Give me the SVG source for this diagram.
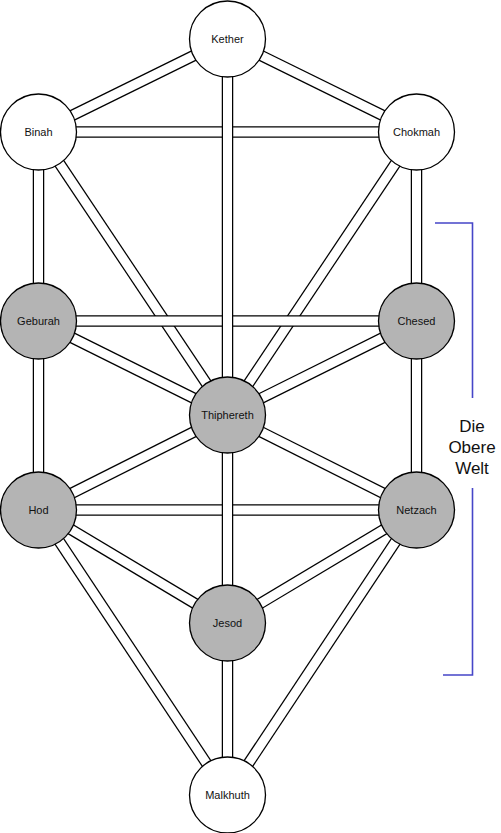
<svg xmlns="http://www.w3.org/2000/svg" width="501" height="833" viewBox="0 0 501 833">
<style>
.o{stroke:#000;stroke-width:11.5;fill:none}
.i{stroke:#fff;stroke-width:9;fill:none}
.n{stroke:#000;stroke-width:1.3}
.w{fill:#fff}
.g{fill:#b4b4b4}
text{font-family:"Liberation Sans",Arial,sans-serif;font-size:11px;text-anchor:middle;fill:#111}
.b{stroke:#4646c8;stroke-width:1.6;fill:none}
.bt{font-size:17px}
</style>
<rect width="501" height="833" fill="#fff"/>
<g id="connectors">
<g><path class="o" d="M227.5 39L38.5 132"/><path class="i" d="M227.5 39L38.5 132"/></g>
<g><path class="o" d="M227.5 39L416.5 132"/><path class="i" d="M227.5 39L416.5 132"/></g>
<g><path class="o" d="M38.5 132L227.5 415"/><path class="i" d="M38.5 132L227.5 415"/></g>
<g><path class="o" d="M416.5 132L227.5 415"/><path class="i" d="M416.5 132L227.5 415"/></g>
<g><path class="o" d="M38.5 321L227.5 415"/><path class="i" d="M38.5 321L227.5 415"/></g>
<g><path class="o" d="M416.5 321L227.5 415"/><path class="i" d="M416.5 321L227.5 415"/></g>
<g><path class="o" d="M227.5 415L38.5 510"/><path class="i" d="M227.5 415L38.5 510"/></g>
<g><path class="o" d="M227.5 415L416.5 510"/><path class="i" d="M227.5 415L416.5 510"/></g>
<g><path class="o" d="M38.5 510L227.5 623"/><path class="i" d="M38.5 510L227.5 623"/></g>
<g><path class="o" d="M416.5 510L227.5 623"/><path class="i" d="M416.5 510L227.5 623"/></g>
<g><path class="o" d="M38.5 510L227.5 795"/><path class="i" d="M38.5 510L227.5 795"/></g>
<g><path class="o" d="M416.5 510L227.5 795"/><path class="i" d="M416.5 510L227.5 795"/></g>
<g><path class="o" d="M38.5 132H416.5"/><path class="i" d="M38.5 132H416.5"/></g>
<g><path class="o" d="M38.5 321H416.5"/><path class="i" d="M38.5 321H416.5"/></g>
<g><path class="o" d="M38.5 510H416.5"/><path class="i" d="M38.5 510H416.5"/></g>
<g><path class="o" d="M38.5 132V510"/><path class="i" d="M38.5 132V510"/></g>
<g><path class="o" d="M416.5 132V510"/><path class="i" d="M416.5 132V510"/></g>
<g><path class="o" d="M227.5 39V795"/><path class="i" d="M227.5 39V795"/></g>
</g>
<g id="kether"><circle class="n w" cx="227.5" cy="39" r="38"/><text x="227.5" y="43">Kether</text></g>
<g id="binah"><circle class="n w" cx="38.5" cy="132" r="38"/><text x="38.5" y="136">Binah</text></g>
<g id="chokmah"><circle class="n w" cx="416.5" cy="132" r="38"/><text x="416.5" y="136">Chokmah</text></g>
<g id="geburah"><circle class="n g" cx="38.5" cy="321" r="38"/><text x="38.5" y="325">Geburah</text></g>
<g id="chesed"><circle class="n g" cx="416.5" cy="321" r="38"/><text x="416.5" y="325">Chesed</text></g>
<g id="thiphereth"><circle class="n g" cx="227.5" cy="415" r="38"/><text x="227.5" y="419">Thiphereth</text></g>
<g id="hod"><circle class="n g" cx="38.5" cy="510" r="38"/><text x="38.5" y="514">Hod</text></g>
<g id="netzach"><circle class="n g" cx="416.5" cy="510" r="38"/><text x="416.5" y="514">Netzach</text></g>
<g id="jesod"><circle class="n g" cx="227.5" cy="623" r="38"/><text x="227.5" y="627">Jesod</text></g>
<g id="malkhuth"><circle class="n w" cx="227.5" cy="795" r="38"/><text x="227.5" y="799">Malkhuth</text></g>
<g id="bracket">
<path class="b" d="M435 223H472.5V398M472.5 488V675H443"/>
<text class="bt" x="472" y="432">Die</text>
<text class="bt" x="472" y="453">Obere</text>
<text class="bt" x="472" y="474">Welt</text>
</g>
</svg>
